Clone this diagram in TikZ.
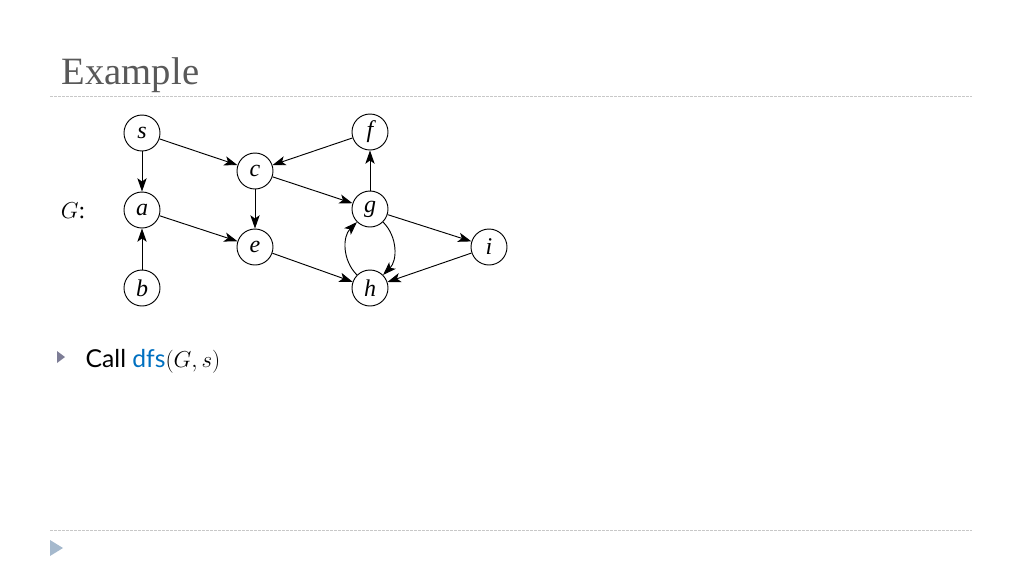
\documentclass[tikz,border=0pt]{standalone}
\usepackage{fontspec}
\setmainfont{Liberation Serif}
\newfontfamily\slidesans{Lato}
\usetikzlibrary{arrows.meta}
\definecolor{titlegray}{RGB}{89,89,89}
\definecolor{rulegray}{RGB}{200,200,200}
\definecolor{dfsblue}{RGB}{0,112,192}
\definecolor{bulletgray}{RGB}{125,125,150}
\definecolor{footblue}{RGB}{165,185,205}

\begin{document}
\begin{tikzpicture}[x=0.75pt,y=-0.75pt,
    vertex/.style={draw,circle,minimum size=27pt,inner sep=0pt,line width=0.7pt,
                   font=\fontsize{18}{18}\selectfont\itshape},
    edge/.style={-{Stealth[length=10pt,width=7pt,inset=2.5pt]},line width=0.7pt}]
\useasboundingbox (0,0) rectangle (1024,576);
% slide frame
\node[anchor=base west,text=titlegray,font=\fontsize{29}{29}\selectfont] (title) at (57,84) {Example};
\draw[rulegray,dash pattern=on 2pt off 1pt] (50,96) -- (972,96);
\draw[rulegray,dash pattern=on 2pt off 1pt] (50,530) -- (972,530);
\fill[footblue] (50,540) -- (63,548) -- (50,556) -- cycle;
% the graph
\node[font=\fontsize{18}{18}\selectfont] (glabel) at (73,211) {$G$:};
\node[vertex] (s) at (142,133) {s};
\node[vertex] (a) at (142,210) {a};
\node[vertex] (b) at (142,288) {b};
\node[vertex] (c) at (255,171) {c};
\node[vertex] (e) at (255,247) {e};
\node[vertex] (f) at (370,132) {f};
\node[vertex] (g) at (370,209) {g};
\node[vertex] (h) at (370,288) {h};
\node[vertex] (i) at (489,247) {i};
\foreach \u/\v in {s/a,s/c,f/c,c/e,c/g,a/e,b/a,g/f,g/i,e/h,i/h}
    \draw[edge] (\u) -- (\v);
\draw[edge] (g) to[out=-45,in=45] (h);
\draw[edge] (h) to[out=135,in=-135] (g);
% bullet
\fill[bulletgray] (57,351) -- (65,357) -- (57,363) -- cycle;
\node[anchor=base west,font=\slidesans\fontsize{18.5}{18.5}\selectfont] (call) at (81,367)
    {Call \textcolor{dfsblue}{dfs}$(G,s)$};
\end{tikzpicture}
\end{document}
